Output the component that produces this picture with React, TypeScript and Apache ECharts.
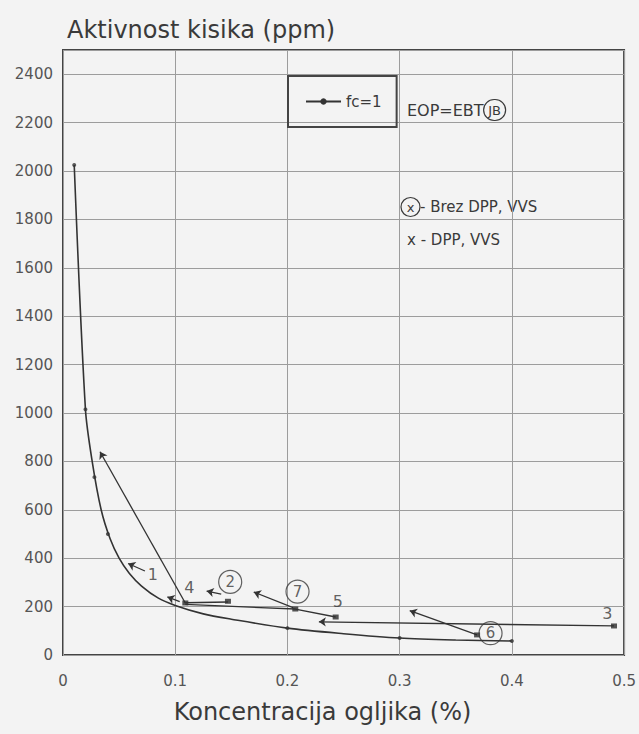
import React, { useEffect, useRef } from "react";
import * as echarts from "echarts";

const FONT = '"DejaVu Sans", "Noto Sans", sans-serif';
const INK = "#3a3a3a";

// x ticks / y ticks
const xTicks = [0, 0.1, 0.2, 0.3, 0.4, 0.5];
const yMax = 2500;
const yLabelMax = 2400;

// equilibrium curve fc = 1 (carbon %, oxygen activity ppm)
const fcC = [0.01, 0.02, 0.026, 0.034, 0.042, 0.05, 0.059, 0.07, 0.085, 0.1, 0.125, 0.15, 0.2, 0.25, 0.3, 0.35, 0.4];
const fcO = [2025, 1015, 800, 600, 480, 400, 338, 285, 235, 205, 170, 148, 111, 88, 70, 62, 58];
// small marks on the fc curve
const fcMarkC = [0.01, 0.02, 0.028, 0.04, 0.2, 0.3, 0.4];
const fcMarkO = [2025, 1015, 735, 500, 111, 70, 58];

// heat trajectories without arrow heads
const line4to2 = [[0.109, 216], [0.147, 219]];
const line4to7to5 = [[0.109, 209], [0.207, 190], [0.243, 157]];

// arrows: last point is the arrow head
const arrow1 = [[0.073, 347], [0.058, 378]];
const arrow4 = [[0.109, 215], [0.033, 840]];
const arrow4b = [[0.104, 221], [0.093, 240]];
const arrow2 = [[0.141, 252], [0.128, 264]];
const arrow7 = [[0.205, 196], [0.17, 260]];
const arrow3 = [[0.491, 120], [0.228, 137]];
const arrow6 = [[0.369, 83], [0.309, 183]];

// measured points of the heats
const heatC = [0.109, 0.147, 0.207, 0.243, 0.369, 0.491];
const heatO = [215, 222, 190, 157, 83, 120];

// heat labels
const plainLabels = [
  [0.08, 331, "1"],
  [0.1125, 277, "4"],
  [0.245, 221, "5"],
  [0.485, 172, "3"],
];
const circledLabels = [
  [0.149, 302, "2"],
  [0.209, 262, "7"],
  [0.381, 90, "6"],
];

const circleRich = {
  borderColor: INK,
  borderWidth: 1.2,
  borderRadius: 12,
  width: 17,
  height: 17,
  lineHeight: 17,
  padding: [3, 3, 3, 3],
  align: "center",
  fontSize: 15,
  color: INK,
  fontFamily: FONT,
};

export default function App() {
  const ref = useRef<HTMLDivElement>(null);

  useEffect(() => {
    document.body.style.margin = "0";
    const chart = echarts.init(ref.current!, null, { renderer: "svg" });
    const arrows = [arrow1, arrow4, arrow4b, arrow2, arrow7, arrow3, arrow6];
    const option: any = {
      animation: false,
      backgroundColor: "#f3f3f3",
      textStyle: { fontFamily: FONT, color: INK },
      grid: {
        left: 63,
        right: 12,
        top: 50,
        bottom: 79,
        show: true,
        borderColor: "#444",
        borderWidth: 2,
      },
      legend: {
        data: [{ name: "fc=1" }],
        left: 288,
        top: 76,
        padding: [18, 15, 18, 17],
        borderColor: "#444",
        borderWidth: 2,
        itemWidth: 35,
        itemHeight: 8,
        textStyle: { fontSize: 15, color: INK, fontFamily: FONT },
      },
      xAxis: {
        type: "value",
        min: 0,
        max: 0.5,
        interval: 0.1,
        name: "Koncentracija ogljika (%)",
        nameLocation: "middle",
        nameGap: 45,
        nameTextStyle: { fontSize: 24, color: INK, fontFamily: FONT, padding: [0, 42, 0, 0] },
        axisLine: { show: false },
        axisTick: { show: false },
        axisLabel: {
          fontSize: 15,
          color: "#555",
          margin: 18,
          customValues: xTicks,
          formatter: (v: number) => (v === 0 ? "0" : v.toFixed(1)),
        },
        splitLine: { show: true, lineStyle: { color: "#9c9c9c", width: 1 } },
      },
      yAxis: {
        type: "value",
        min: 0,
        max: yMax,
        interval: 200,
        name: "Aktivnost kisika (ppm)",
        nameLocation: "end",
        nameGap: 8,
        nameTextStyle: { fontSize: 24, color: INK, fontFamily: FONT, align: "left", padding: [0, 0, 0, 4] },
        axisLine: { show: false },
        axisTick: { show: false },
        axisLabel: {
          fontSize: 15,
          color: "#555",
          margin: 10,
          formatter: (v: number) => (v > yLabelMax ? "" : String(v)),
        },
        splitLine: { show: true, lineStyle: { color: "#9c9c9c", width: 1 } },
      },
      series: [
        {
          name: "fc=1",
          type: "line",
          data: fcC.map((c, i) => [c, fcO[i]]),
          smooth: 0.3,
          symbol: "circle",
          symbolSize: 4,
          showSymbol: false,
          lineStyle: { color: "#333", width: 1.6 },
          itemStyle: { color: "#333" },
        },
        {
          type: "scatter",
          data: fcMarkC.map((c, i) => [c, fcMarkO[i]]),
          symbol: "circle",
          symbolSize: 4,
          itemStyle: { color: "#333" },
        },
        {
          type: "line",
          data: line4to2,
          showSymbol: false,
          lineStyle: { color: "#333", width: 1.3 },
        },
        {
          type: "line",
          data: line4to7to5,
          showSymbol: false,
          lineStyle: { color: "#333", width: 1.3 },
        },
        {
          type: "lines",
          coordinateSystem: "cartesian2d",
          symbol: ["none", "arrow"],
          symbolSize: 7,
          lineStyle: { color: "#333", width: 1.3, opacity: 1 },
          data: arrows.map((a) => ({ coords: a })),
        },
        {
          type: "scatter",
          data: heatC.map((c, i) => [c, heatO[i]]),
          symbol: "rect",
          symbolSize: [6, 5],
          itemStyle: { color: "#2a2a2a" },
        },
        {
          type: "scatter",
          data: plainLabels,
          symbol: "circle",
          symbolSize: 1,
          itemStyle: { color: "rgba(0,0,0,0)" },
          label: {
            show: true,
            position: "inside",
            formatter: (p: any) => p.data[2],
            fontSize: 16,
            color: INK,
            fontFamily: FONT,
          },
        },
        {
          type: "scatter",
          data: circledLabels,
          symbol: "circle",
          symbolSize: 1,
          itemStyle: { color: "rgba(0,0,0,0)" },
          label: {
            show: true,
            position: "inside",
            formatter: (p: any) => "{c|" + p.data[2] + "}",
            rich: { c: circleRich },
          },
        },
      ],
      graphic: [
        {
          type: "text",
          x: 407,
          y: 110,
          style: {
            text: "EOP=EBT{c|JB}",
            fontSize: 16,
            fontFamily: FONT,
            fill: INK,
            verticalAlign: "middle",
            rich: { c: { ...circleRich, width: 18, fontSize: 13, padding: [2, 2, 2, 2] } },
          },
        },
        {
          type: "text",
          x: 401,
          y: 207,
          style: {
            text: "{c|x}- Brez DPP, VVS",
            fontSize: 15,
            fontFamily: FONT,
            fill: INK,
            verticalAlign: "middle",
            rich: { c: { ...circleRich, width: 13, height: 13, lineHeight: 13, fontSize: 13, borderRadius: 10 } },
          },
        },
        {
          type: "text",
          x: 407,
          y: 240,
          style: {
            text: "x - DPP, VVS",
            fontSize: 15,
            fontFamily: FONT,
            fill: INK,
            verticalAlign: "middle",
          },
        },
      ],
    };
    chart.setOption(option);
    return () => chart.dispose();
  }, []);

  return (
    <div
      ref={ref}
      style={{ position: "fixed", left: 0, top: 0, width: 639, height: 734, background: "#f3f3f3" }}
    />
  );
}
